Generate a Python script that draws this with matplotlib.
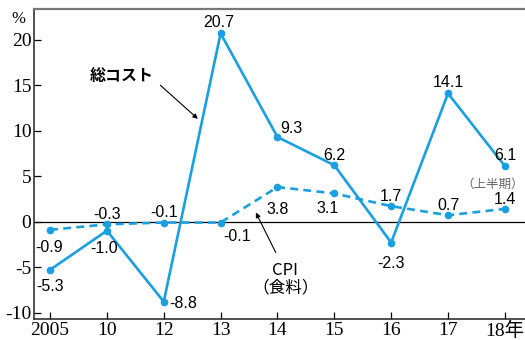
import numpy as np
import matplotlib.pyplot as plt

years = ['2005', '10', '12', '13', '14', '15', '16', '17', '18年']
total_cost = [-5.3, -1.0, -8.8, 20.7, 9.3, 6.2, -2.3, 14.1, 6.1]
cpi_food = [-0.9, -0.3, -0.1, -0.1, 3.8, 3.1, 1.7, 0.7, 1.4]

# label offsets in points (dx, dy)
cost_off = [(0, -12), (-2, -13), (14, -1), (-1, 8), (10, 6), (0, 7), (0, -15), (0, 8), (0, 8)]
cpi_off = [(-1, -13), (0, 7), (0, 7), (12, -10), (0, -16), (-5, -11), (0, 7), (0, 7), (0, 7)]

blue = '#1a9fe0'
serif = ['Liberation Serif', 'Noto Sans CJK JP']
sans = ['Liberation Sans', 'Noto Sans CJK JP']
arrow = dict(arrowstyle='-|>', color='black', lw=0.8, mutation_scale=7,
             shrinkA=0, shrinkB=0)

fig = plt.figure(figsize=(5.25, 3.4), dpi=100)
ax = fig.add_axes([0.065, 0.062, 0.94, 0.912])
x = np.arange(len(years))

ax.axhline(0, color='black', lw=0.9, zorder=1)
ax.plot(x, total_cost, color=blue, lw=1.9, marker='o', ms=4.5, zorder=3)
ax.plot(x, cpi_food, color=blue, lw=1.9, ls=(0, (3, 2)), marker='o', ms=4.5, zorder=3)

for i, v in enumerate(total_cost):
    ax.annotate(f'{v:.1f}', (i, v), xytext=cost_off[i], textcoords='offset points',
                ha='center', va='center', fontsize=11.5, family=sans)
for i, v in enumerate(cpi_food):
    ax.annotate(f'{v:.1f}', (i, v), xytext=cpi_off[i], textcoords='offset points',
                ha='center', va='center', fontsize=11.5, family=sans)

# series names with pointer arrows
ax.text(1.27, 16.0, '総コスト', ha='center', va='center', fontsize=11.5,
        family=['Noto Sans CJK JP'], fontweight='bold')
ax.annotate('', xy=(2.6, 11.3), xytext=(1.94, 15.0), arrowprops=arrow)
ax.text(4.14, -6.3, 'CPI\n（食料）', ha='center', va='center', fontsize=12,
        family=['Noto Sans CJK JP'], linespacing=1.0)
ax.annotate('', xy=(3.62, 1.0), xytext=(3.97, -3.4), arrowprops=arrow)

ax.text(8.33, 4.1, '（上半期）', ha='right', va='center', fontsize=9,
        color='#666666', family=serif)
ax.text(-0.55, 22.3, '%', ha='center', va='center', fontsize=12, family=serif,
        clip_on=False)

ax.set_xlim(-0.28, 8.4)
ax.set_ylim(-10.7, 23.4)
ax.set_xticks(x)
ax.set_xticklabels(years, family=serif, fontsize=14)
ax.set_yticks([-10, -5, 0, 5, 10, 15, 20])
ax.set_yticklabels(['-10', '-5', '0', '5', '10', '15', '20'], family=serif, fontsize=14)
ax.tick_params(direction='in', length=5, width=0.9, colors='black', pad=2)

for s in ['left', 'bottom']:
    ax.spines[s].set_color('#333333')
    ax.spines[s].set_linewidth(1.2)
ax.spines['top'].set_color('#777777')
ax.spines['top'].set_linewidth(1.6)
ax.spines['right'].set_visible(False)

fig.savefig('out.png', dpi=100)
